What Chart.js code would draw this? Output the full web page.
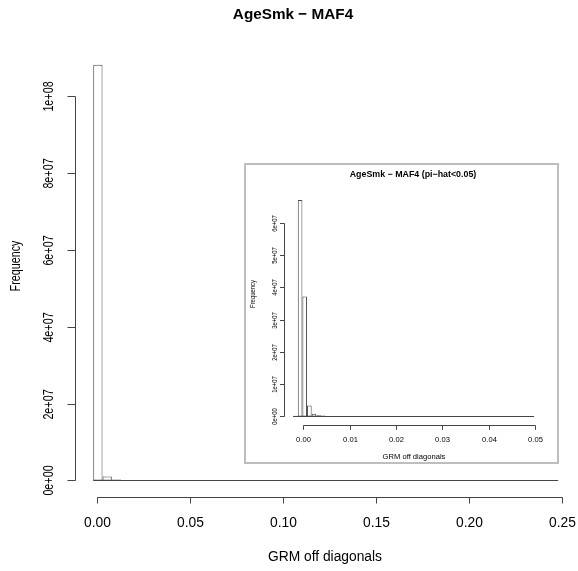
<!DOCTYPE html>
<html>
<head>
<meta charset="utf-8">
<script src="https://cdn.jsdelivr.net/npm/chart.js@4.4.1/dist/chart.umd.min.js"></script>
<style>
  html, body { margin: 0; padding: 0; background: #fff; }
  #wrap { position: relative; width: 578px; height: 571px; }
  #mainChart { position: absolute; left: 0; top: 0; }
  #insetChart { position: absolute; left: 243px; top: 162px; }
</style>
</head>
<body>
<div id="wrap">
  <canvas id="mainChart" width="578" height="571"></canvas>
  <canvas id="insetChart" width="316" height="302"></canvas>
</div>
<script>
// all off-diagonal GRM entries, bins of 0.005
const mainBinStart = -0.0022;
const mainBinWidth = 0.005;
const mainCounts = [
  1.081e8, 1.05e6, 2.4e5, 1.0e5, 5.2e4, 3.1e4, 2.2e4, 1.6e4, 1.2e4, 9500,
  7600, 6200, 5100, 4300, 3600, 3100, 2700, 2300, 2000, 1800,
  1600, 1400, 1250, 1100, 1000, 900, 820, 740, 670, 610,
  560, 510, 470, 430, 400, 370, 340, 310, 290, 270,
  250, 230, 210, 190, 170, 150, 130, 110, 90, 70
];
const mainXTicks = [0, 0.05, 0.10, 0.15, 0.20, 0.25];
const mainYTicks = [0, 2e7, 4e7, 6e7, 8e7, 1e8];

// pairs with pi-hat < 0.05, bins of 0.001
const insetBinStart = -0.0022;
const insetBinWidth = 0.001;
const insetCounts = [
  2.1e5, 6.71e7, 3.72e7, 3.4e6, 8.2e5, 4.1e5, 2.6e5, 1.7e5, 1.2e5, 9.0e4,
  7.0e4, 5.5e4, 4.5e4, 3.8e4, 3.2e4, 2.7e4, 2.3e4, 2.0e4, 1.7e4, 1.4e4,
  1.2e4, 1.1e4, 1.0e4, 9300, 8600, 8000, 7400, 6900, 6400, 6000,
  5600, 5200, 4900, 4600, 4300, 4000, 3800, 3600, 3400, 3200,
  3000, 2800, 2700, 2600, 2500, 2400, 2300, 2200, 2100, 2000,
  1900, 1800
];
const insetXTicks = [0, 0.01, 0.02, 0.03, 0.04, 0.05];
const insetYTicks = [0, 1e7, 2e7, 3e7, 4e7, 5e7, 6e7];

const FONT = '"Liberation Sans", Arial, Helvetica, sans-serif';
const VY = 0.78; // rotated labels run shorter than upright ones

function sci(v) {
  if (v === 0) return '0e+00';
  return v.toExponential(0).replace(/e([+-])(\d+)$/, (m, s, d) => 'e' + s + d.padStart(2, '0'));
}

function text(ctx, str, x, y, size, bold, vertical) {
  ctx.save();
  ctx.translate(x, y);
  if (vertical) {
    ctx.scale(1, VY);
    ctx.rotate(-Math.PI / 2);
  }
  ctx.font = (bold ? 'bold ' : '') + size + 'px ' + FONT;
  ctx.textAlign = 'center';
  ctx.textBaseline = 'middle';
  ctx.fillStyle = '#000';
  ctx.fillText(str, 0, 0);
  ctx.restore();
}

// base-graphics style frame: detached axes, tick labels, titles
const rFrame = {
  id: 'rframe',
  beforeDraw(chart, args, o) {
    const { ctx, width, height } = chart;
    ctx.save();
    ctx.fillStyle = '#fff';
    ctx.fillRect(0, 0, width, height);
    if (o.box) {
      ctx.strokeStyle = '#bebebe';
      ctx.lineWidth = 2;
      ctx.strokeRect(2, 2, width - 3, height - 3);
    }
    ctx.restore();
  },
  afterDatasetsDraw(chart, args, o) {
    const { ctx, chartArea: a } = chart;
    const xs = chart.scales.x, ys = chart.scales.y;
    ctx.save();
    ctx.strokeStyle = '#444';
    ctx.lineWidth = 1;
    ctx.beginPath();
    // empty bins still leave their outline on the zero line
    const y0 = Math.round(ys.getPixelForValue(0)) + 0.5;
    ctx.moveTo(xs.getPixelForValue(o.from), y0);
    ctx.lineTo(xs.getPixelForValue(o.to), y0);

    const xb = Math.round(a.bottom) + 0.5;
    const xt = o.xTicks.map(v => Math.round(xs.getPixelForValue(v)) + 0.5);
    ctx.moveTo(xt[0], xb);
    ctx.lineTo(xt[xt.length - 1], xb);
    xt.forEach(px => { ctx.moveTo(px, xb); ctx.lineTo(px, xb + o.xTick); });

    const yl = Math.round(a.left) + 0.5;
    const yt = o.yTicks.map(v => Math.round(ys.getPixelForValue(v)) + 0.5);
    ctx.moveTo(yl, yt[0]);
    ctx.lineTo(yl, yt[yt.length - 1]);
    yt.forEach(py => { ctx.moveTo(yl, py); ctx.lineTo(yl - o.yTick, py); });
    ctx.stroke();

    o.xTicks.forEach((v, i) => text(ctx, v.toFixed(2), xt[i], o.xLabelY, o.size));
    o.yTicks.forEach((v, i) => text(ctx, sci(v), o.yLabelX, yt[i], o.size, false, true));
    text(ctx, o.title, o.titleX, o.titleY, o.titleSize, true);
    text(ctx, o.xTitle, o.xTitleX, o.xTitleY, o.size);
    text(ctx, o.yTitle, o.yTitleX, o.yTitleY, o.size, false, true);
    ctx.restore();
  }
};

function histChart(id, start, width, counts, xRange, yRange, pad, frame) {
  frame.from = start;
  frame.to = start + width * counts.length;
  const points = counts.map((c, i) => ({ x: start + width * (i + 0.5), y: c }));
  return new Chart(document.getElementById(id), {
    type: 'bar',
    data: {
      datasets: [{
        data: points,
        backgroundColor: '#fff',
        borderColor: '#4a4a4a',
        borderWidth: 1,
        borderSkipped: false,
        inflateAmount: 0,
        barPercentage: 1,
        categoryPercentage: 1
      }]
    },
    options: {
      responsive: false,
      animation: false,
      devicePixelRatio: 1,
      layout: { padding: pad },
      scales: {
        x: {
          type: 'linear', offset: false, min: xRange[0], max: xRange[1], display: false,
          afterBuildTicks: s => { s.ticks = frame.xTicks.map(v => ({ value: v })); }
        },
        y: {
          type: 'linear', min: yRange[0], max: yRange[1], display: false,
          afterBuildTicks: s => { s.ticks = frame.yTicks.map(v => ({ value: v })); }
        }
      },
      plugins: { legend: { display: false }, tooltip: { enabled: false }, rframe: frame }
    },
    plugins: [rFrame]
  });
}

histChart('mainChart', mainBinStart, mainBinWidth, mainCounts,
  [-0.012, 0.257], [-4.32e6, 1.1232e8],
  { left: 75, right: 2.7, top: 48.4, bottom: 73.9 },
  {
    box: false, xTicks: mainXTicks, yTicks: mainYTicks, xTick: 6, yTick: 8, size: 13.8,
    xLabelY: 523, yLabelX: 49,
    title: 'AgeSmk \u2212 MAF4', titleX: 293, titleY: 15, titleSize: 15.3,
    xTitle: 'GRM off diagonals', xTitleX: 325, xTitleY: 557,
    yTitle: 'Frequency', yTitleX: 16, yTitleY: 266
  });

histChart('insetChart', insetBinStart, insetBinWidth, insetCounts,
  [-0.00428, 0.0519], [-2.68e6, 6.98e7],
  { left: 40.5, right: 15.2, top: 29.4, bottom: 38.9 },
  {
    box: true, xTicks: insetXTicks, yTicks: insetYTicks, xTick: 4.3, yTick: 4.5, size: 7.6,
    xLabelY: 278, yLabelX: 32,
    title: 'AgeSmk \u2212 MAF4 (pi\u2212hat<0.05)', titleX: 170, titleY: 13, titleSize: 8.85,
    xTitle: 'GRM off diagonals', xTitleX: 171, xTitleY: 294.5,
    yTitle: 'Frequency', yTitleX: 10, yTitleY: 132
  });
</script>
</body>
</html>
